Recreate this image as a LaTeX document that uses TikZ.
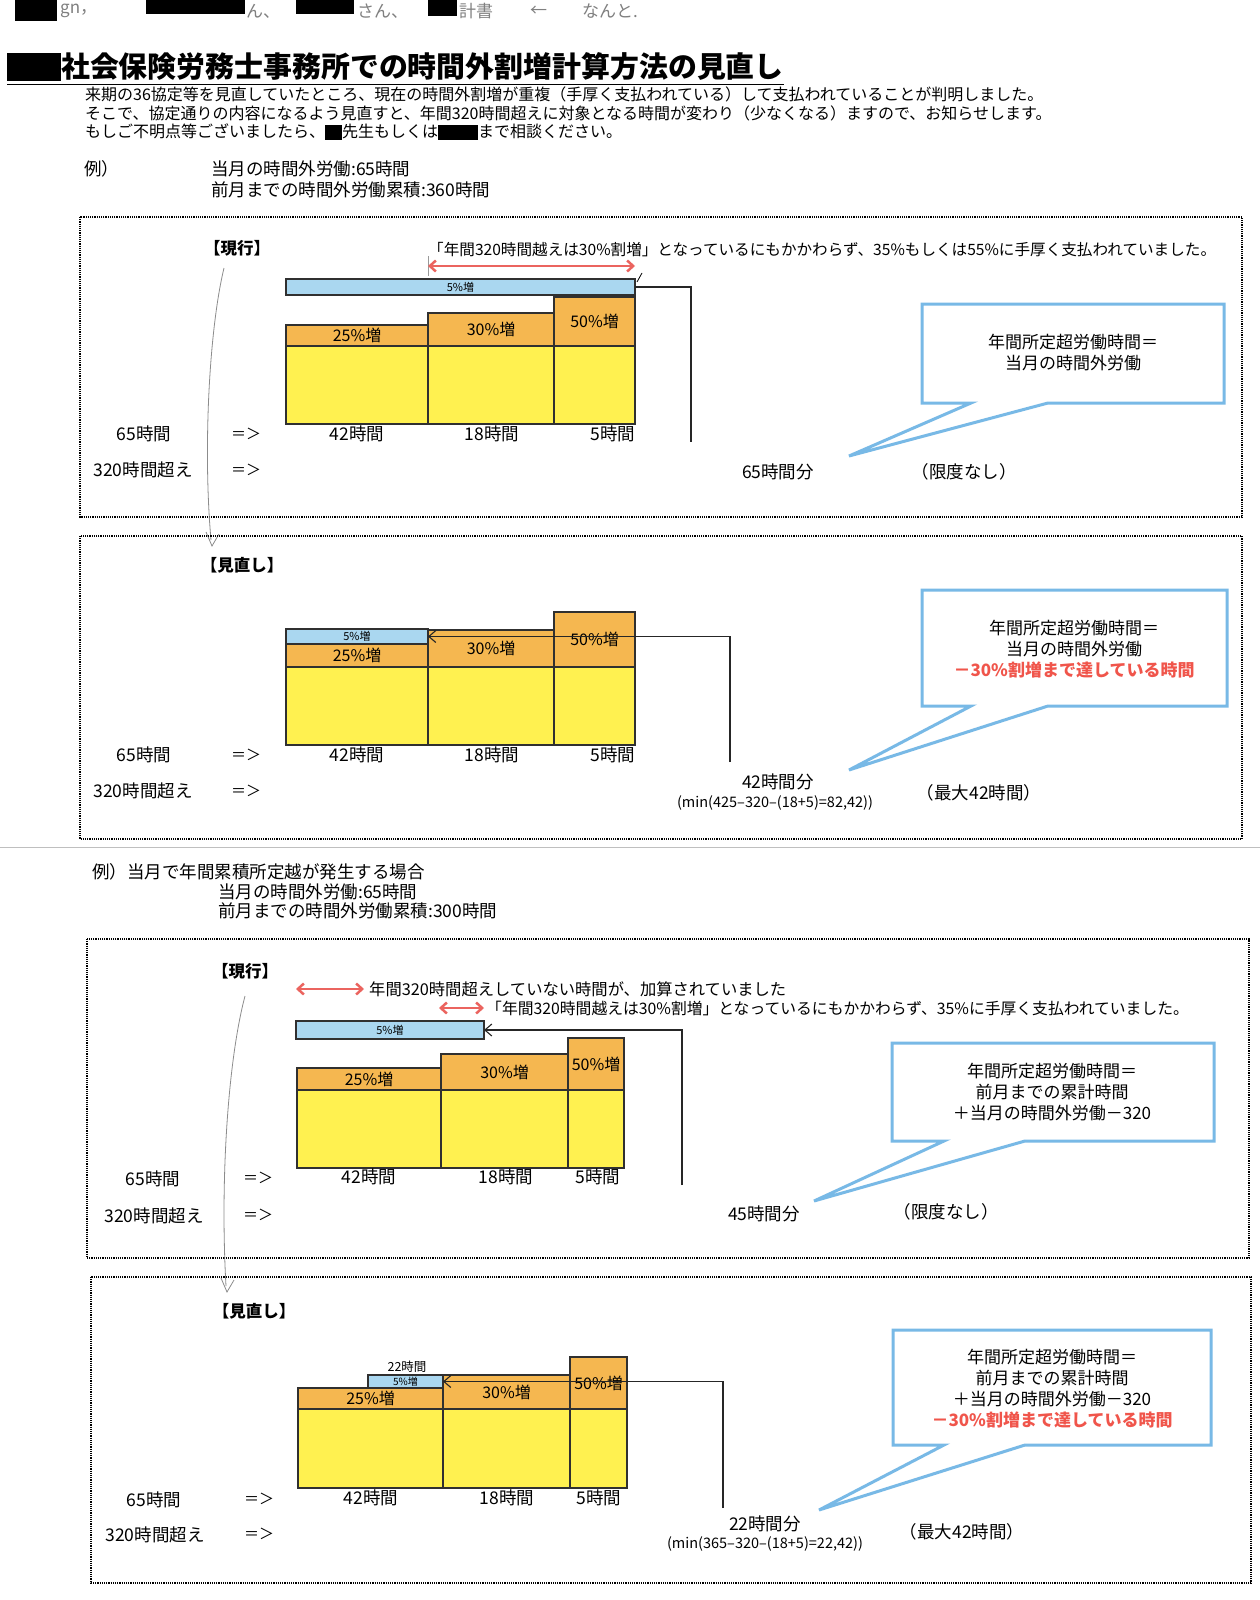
\documentclass[tikz,border=0pt]{standalone}
\usepackage{fontspec}
\setmainfont{Noto Sans CJK JP}
\usetikzlibrary{arrows.meta}
\definecolor{ycol}{HTML}{FFF150}
\definecolor{ocol}{HTML}{F5B750}
\definecolor{bcol}{HTML}{AAD7F0}
\definecolor{callcol}{HTML}{78B9E6}
\definecolor{redarrc}{HTML}{EB645F}
\definecolor{redtxt}{HTML}{F0554B}
\definecolor{barline}{HTML}{303030}
\newcommand{\fsz}[1]{\fontsize{#1}{#1}\selectfont}
\newcommand{\mkbar}[7]{\node[#1, minimum width={#5-#3}, minimum height={#6-#4}] (#2) at ({(#3+#5)/2},{(#4+#6)/2}) {#7};}
\newcommand{\redact}[2]{\textcolor{black}{\rule[-2pt]{#1pt}{#2pt}}}
\begin{document}
\begin{tikzpicture}[x=1pt,y=-1pt,
  bar/.style={draw=barline, line width=2.2pt, inner sep=0pt, outer sep=0pt},
  ybar/.style={bar, fill=ycol, line width=1.8pt},
  obar/.style={bar, fill=ocol, font=\fsz{16}},
  bbar/.style={bar, fill=bcol, font=\fsz{11}, line width=2pt},
  txt/.style={inner sep=0pt, font=\fsz{17.5}},
  arr/.style={inner sep=0pt, font=\fsz{15}},
  qtxt/.style={inner sep=0pt, font=\fsz{16.3}, anchor=west},
  hdr/.style={inner sep=0pt, font=\fsz{16.5}\bfseries},
  panel/.style={densely dotted, line width=1.2pt},
  callout/.style={draw=callcol, line width=3pt, fill=white, line join=miter},
  ctxt/.style={inner sep=0pt, font=\fsz{17}, align=center},
  redarr/.style={draw=redarrc, line width=2.5pt, {Straight Barb[length=6pt,width=11pt]}-{Straight Barb[length=6pt,width=11pt]}},
  conn/.style={line width=1.1pt, draw=black!85},
  connarr/.style={conn, -{Straight Barb[length=7pt,width=12pt]}},
  hand/.style={draw=black!45, line width=0.8pt},
  htxt/.style={inner sep=0pt, font=\fsz{17}, text=black!50}
]
\useasboundingbox (0,0) rectangle (1260,1600);
\fill[white] (0,0) rectangle (1260,1600);

% ---------- handwritten header ----------
\fill (15,0) rectangle (57,21);
\node[htxt, anchor=west] (hw1) at (60,11) {gn，};
\fill (146,0) rectangle (245,14);
\node[htxt, anchor=west] (hw2) at (246,11) {ん、};
\fill (296,0) rectangle (354,14);
\node[htxt, anchor=west] (hw3) at (357,11) {さん、};
\fill (428,0) rectangle (457,16);
\node[htxt, anchor=west] (hw4) at (459,11) {計書};
\node[htxt, anchor=west] (hw5) at (530,11) {←};
\node[htxt, anchor=west] (hw6) at (582,11) {なんと.};

% ---------- title ----------
\node[inner sep=0pt, anchor=west, font=\fsz{28.9}\bfseries] (title) at (7,67) {\rule[-4pt]{54pt}{28pt}社会保険労務士事務所での時間外割増計算方法の見直し};
\draw[line width=1.4pt] ([yshift=-3pt]title.south west) -- ([yshift=-3pt]title.south east);

\node[qtxt, font=\fsz{16}] (intro1) at (85,94) {来期の36協定等を見直していたところ、現在の時間外割増が重複（手厚く支払われている）して支払われていることが判明しました。};
\node[qtxt, font=\fsz{16}] (intro2) at (85,113) {そこで、協定通りの内容になるよう見直すと、年間320時間超えに対象となる時間が変わり（少なくなる）ますので、お知らせします。};
\node[qtxt, font=\fsz{16}] (intro3) at (85,132) {もしご不明点等ございましたら、\redact{17}{15}先生もしくは\redact{40}{15}まで相談ください。};

\node[txt, anchor=west] (ex1) at (84,169) {例）};
\node[txt, anchor=west] (ex1a) at (211,169) {当月の時間外労働:65時間};
\node[txt, anchor=west] (ex1b) at (211,190) {前月までの時間外労働累積:360時間};

% ================= Panel 1 =================
\draw[panel] (80,217) rectangle (1242,517);
\node[hdr] (h1) at (237,248) {【現行】};
\node[qtxt, font=\fsz{15.6}] (q1) at (428,250) {「年間320時間越えは30\%割増」となっているにもかかわらず、35\%もしくは55\%に手厚く支払われていました。};
\coordinate (a1l) at (428,266);
\coordinate (a1r) at (635,266);
\draw[black!40, line width=0.6pt] (428,256) -- (428,276);
\draw[redarr] (a1l) -- (a1r);
\draw[line width=0.8pt] (637,282) -- (642,273);

\mkbar{bbar}{p1b}{286}{279}{635}{295}{5\%増}
\mkbar{ybar}{p1y1}{286}{346}{428}{424}{}
\mkbar{ybar}{p1y2}{428}{346}{554}{424}{}
\mkbar{ybar}{p1y3}{554}{346}{635}{424}{}
\mkbar{obar}{p1o1}{286}{325}{428}{346}{25\%増}
\mkbar{obar}{p1o2}{428}{313}{554}{346}{30\%増}
\mkbar{obar}{p1o3}{554}{297}{635}{346}{50\%増}
\coordinate (c1end) at (691,442);
\draw[conn] (p1b.east) -| (c1end);

\node[txt] (p1l1) at (357,434) {42時間};
\node[txt] (p1l2) at (492,434) {18時間};
\node[txt] (p1l3) at (613,434) {5時間};
\node[txt] (p1s1) at (144,434) {65時間};
\node[arr] (p1s2) at (246,434) {＝＞};
\node[txt] (p1s3) at (143,470) {320時間超え};
\node[arr] (p1s4) at (246,470) {＝＞};
\node[txt] (p1r1) at (778,472) {65時間分};
\node[txt] (p1r2) at (964,472) {（限度なし）};

\draw[callout] (922,304) -- (1224,304) -- (1224,403) -- (1048,403) -- (849,456) -- (971,403) -- (922,403) -- cycle;
\node[ctxt] (p1c) at (1073,353) {年間所定超労働時間＝\\[4pt]当月の時間外労働};

% hand-drawn curve panel1 -> panel2
\draw[hand] (224,268) .. controls (209,330) and (203,450) .. (211,540);
\draw[hand] (206,532) -- (212,546) -- (219,534);

% ================= Panel 2 =================
\draw[panel] (80,536) rectangle (1242,839);
\node[hdr] (h2) at (242,565) {【見直し】};

\mkbar{ybar}{p2y1}{286}{667}{428}{745}{}
\mkbar{ybar}{p2y2}{428}{667}{554}{745}{}
\mkbar{ybar}{p2y3}{554}{667}{635}{745}{}
\mkbar{obar}{p2o1}{286}{644}{428}{667}{25\%増}
\mkbar{bbar}{p2b}{286}{629}{428}{644}{5\%増}
\mkbar{obar}{p2o2}{428}{630}{554}{667}{30\%増}
\mkbar{obar}{p2o3}{554}{612}{635}{667}{50\%増}
\coordinate (c2end) at (730,762);
\draw[connarr] (c2end) |- (p2b.east);

\node[txt] (p2l1) at (357,755) {42時間};
\node[txt] (p2l2) at (492,755) {18時間};
\node[txt] (p2l3) at (613,755) {5時間};
\node[txt] (p2s1) at (144,755) {65時間};
\node[arr] (p2s2) at (246,755) {＝＞};
\node[txt] (p2s3) at (143,791) {320時間超え};
\node[arr] (p2s4) at (246,791) {＝＞};
\node[txt] (p2r1) at (778,782) {42時間分};
\node[txt, font=\fsz{14.5}] (p2r1b) at (775,803) {(min(425–320–(18+5)=82,42))};
\node[txt] (p2r2) at (979,793) {（最大42時間）};

\draw[callout] (922,590) -- (1227,590) -- (1227,706) -- (1048,706) -- (849,770) -- (971,706) -- (922,706) -- cycle;
\node[ctxt] (p2c) at (1074,649) {年間所定超労働時間＝\\[4pt]当月の時間外労働\\[4pt]\textcolor{redtxt}{\bfseries －30\%割増まで達している時間}};

% separator
\draw[black!25, line width=0.8pt] (0,847) -- (1260,847);

% ================= Example 2 header =================
\node[txt, anchor=west] (ex2) at (92,872) {例）当月で年間累積所定越が発生する場合};
\node[txt, anchor=west] (ex2a) at (218,892) {当月の時間外労働:65時間};
\node[txt, anchor=west] (ex2b) at (218,911) {前月までの時間外労働累積:300時間};

% ================= Panel 3 =================
\draw[panel] (87,939) rectangle (1249,1258);
\node[hdr] (h3) at (245,971) {【現行】};
\node[qtxt] (q3a) at (369,989) {年間320時間超えしていない時間が、加算されていました};
\node[qtxt, font=\fsz{15.8}] (q3b) at (486,1008) {「年間320時間越えは30\%割増」となっているにもかかわらず、35\%に手厚く支払われていました。};
\coordinate (a3l) at (296,989);
\coordinate (a3r) at (364,989);
\draw[redarr] (a3l) -- (a3r);
\coordinate (a4l) at (439,1008);
\coordinate (a4r) at (484,1008);
\draw[redarr] (a4l) -- (a4r);

\mkbar{bbar}{p3b}{296}{1021}{484}{1039}{5\%増}
\mkbar{ybar}{p3y1}{297}{1090}{441}{1168}{}
\mkbar{ybar}{p3y2}{441}{1090}{568}{1168}{}
\mkbar{ybar}{p3y3}{568}{1090}{624}{1168}{}
\mkbar{obar}{p3o1}{297}{1068}{441}{1090}{25\%増}
\mkbar{obar}{p3o2}{441}{1054}{568}{1090}{30\%増}
\mkbar{obar}{p3o3}{568}{1038}{624}{1090}{50\%増}
\coordinate (c3end) at (682,1185);
\draw[connarr] (c3end) |- (p3b.east);

\node[txt] (p3l1) at (369,1177) {42時間};
\node[txt] (p3l2) at (506,1177) {18時間};
\node[txt] (p3l3) at (598,1177) {5時間};
\node[txt] (p3s1) at (153,1179) {65時間};
\node[arr] (p3s2) at (258,1178) {＝＞};
\node[txt] (p3s3) at (154,1216) {320時間超え};
\node[arr] (p3s4) at (258,1215) {＝＞};
\node[txt] (p3r1) at (764,1214) {45時間分};
\node[txt] (p3r2) at (946,1212) {（限度なし）};

\draw[callout] (892,1043) -- (1214,1043) -- (1214,1141) -- (1025,1141) -- (814,1201) -- (944,1141) -- (892,1141) -- cycle;
\node[ctxt] (p3c) at (1052,1092) {年間所定超労働時間＝\\[4pt]前月までの累計時間\\[4pt]＋当月の時間外労働－320};

% hand-drawn curve panel3 -> panel4
\draw[hand] (245,996) .. controls (228,1060) and (220,1180) .. (226,1286);
\draw[hand] (221,1278) -- (227,1292) -- (234,1280);

% ================= Panel 4 =================
\draw[panel] (91,1277) rectangle (1251,1583);
\node[hdr] (h4) at (254,1311) {【見直し】};

\mkbar{ybar}{p4y1}{298}{1409}{443}{1488}{}
\mkbar{ybar}{p4y2}{443}{1409}{570}{1488}{}
\mkbar{ybar}{p4y3}{570}{1409}{627}{1488}{}
\mkbar{obar}{p4o1}{298}{1388}{443}{1409}{25\%増}
\mkbar{bbar}{p4b}{368}{1375}{443}{1388}{\fsz{10}5\%増}
\mkbar{obar}{p4o2}{443}{1375}{570}{1409}{30\%増}
\mkbar{obar}{p4o3}{570}{1357}{627}{1409}{50\%増}
\node[txt, font=\fsz{12.5}] (p4bl) at (407,1367) {22時間};
\coordinate (c4end) at (723,1508);
\draw[connarr] (c4end) |- (p4b.east);

\node[txt] (p4l1) at (371,1498) {42時間};
\node[txt] (p4l2) at (507,1498) {18時間};
\node[txt] (p4l3) at (599,1498) {5時間};
\node[txt] (p4s1) at (154,1500) {65時間};
\node[arr] (p4s2) at (259,1499) {＝＞};
\node[txt] (p4s3) at (155,1535) {320時間超え};
\node[arr] (p4s4) at (259,1534) {＝＞};
\node[txt] (p4r1) at (765,1524) {22時間分};
\node[txt, font=\fsz{14.5}] (p4r1b) at (765,1544) {(min(365–320–(18+5)=22,42))};
\node[txt] (p4r2) at (962,1532) {（最大42時間）};

\draw[callout] (893,1330) -- (1211,1330) -- (1211,1445) -- (1025,1445) -- (819,1510) -- (944,1445) -- (893,1445) -- cycle;
\node[ctxt] (p4c) at (1052,1389) {年間所定超労働時間＝\\[4pt]前月までの累計時間\\[4pt]＋当月の時間外労働－320\\[4pt]\textcolor{redtxt}{\bfseries －30\%割増まで達している時間}};
\end{tikzpicture}
\end{document}
